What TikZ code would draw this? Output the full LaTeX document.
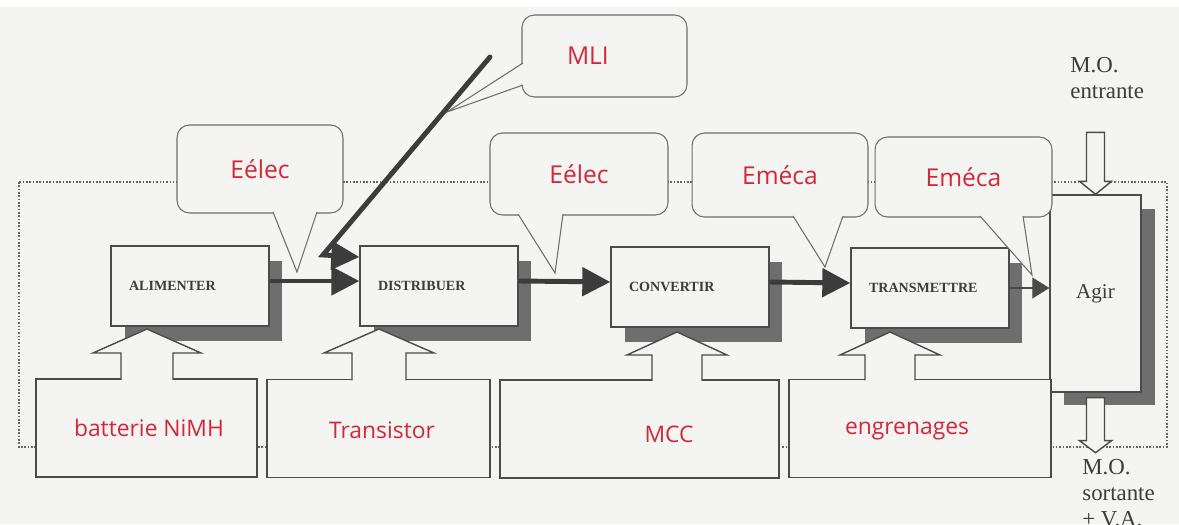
\documentclass[tikz,border=0pt]{standalone}
\usepackage{fontspec}
\setmainfont{Liberation Serif}
\newfontfamily\calfont{Open Sans}
\usetikzlibrary{arrows.meta,calc,shadows}
\definecolor{paper}{RGB}{244,244,243}
\definecolor{ink}{RGB}{75,75,75}
\definecolor{ombre}{RGB}{110,110,110}
\definecolor{redlabel}{RGB}{212,40,58}
\definecolor{txt}{RGB}{60,60,60}
\definecolor{bulleink}{RGB}{110,110,110}

\begin{document}
\begin{tikzpicture}[x=0.02cm,y=-0.02cm,>={Triangle[length=0.56cm,width=0.56cm]},
  fonction/.style={draw=ink, fill=paper, line width=0.8pt, minimum height=1.6cm, text width=2.44cm, inner xsep=0.36cm, align=left, text=txt, font=\fontsize{8}{9}\selectfont\bfseries, general shadow={fill=ombre, shadow xshift=0.27cm, shadow yshift=-0.3cm}},
  ressource/.style={draw=ink, fill=paper, line width=0.8pt, minimum height=1.96cm, inner sep=0pt},
  rouge/.style={text=redlabel, font=\calfont\fontsize{13}{15}\selectfont},
  bulle/.style={draw=bulleink, fill=paper, line width=0.6pt, rounded corners=0.25cm, inner sep=0pt, text=redlabel, font=\calfont\fontsize{14}{16}\selectfont},
  pointe/.style={draw=bulleink, fill=paper, line width=0.6pt},
  flux/.style={draw=ink!80!black, line width=2.8pt},
  creux/.style={draw=ink, fill=paper, line width=0.8pt},
  mo/.style={align=left, inner sep=0pt, text=txt, font=\fontsize{13}{14.8}\selectfont}]
  %frame
  \useasboundingbox (0,0) rectangle (1179,524);
  \fill[paper] (0,7) rectangle (1179,524);
  \draw[ink!85, densely dotted, line width=0.9pt] (19,182) rectangle (1167,447);
  % functions
  \node[fonction] (alim) at (190,286) {ALIMENTER};
  \node[fonction] (dist) at (439,286) {DISTRIBUER};
  \node[fonction] (conv) at (690,287) {CONVERTIR};
  \node[fonction] (trans) at (930,288) {TRANSMETTRE};
  \node[draw=ink, fill=paper, line width=0.8pt, minimum width=1.82cm, minimum height=3.94cm, text=txt, font=\fontsize{12}{14}\selectfont, general shadow={fill=ombre, shadow xshift=0.28cm, shadow yshift=-0.27cm}] (agir) at (1095.5,293.5) {Agir};
  % resources
  \node[ressource, minimum width=4.42cm] (batt) at (146.5,428) {};
  \node[ressource, minimum width=4.46cm] (trsr) at (378.5,428.5) {};
  \node[ressource, minimum width=5.58cm] (mcc) at (639.5,429) {};
  \node[ressource, minimum width=5.24cm] (engr) at (920,428.5) {};
  \node[rouge] (lbatt) at (149,428) {batterie NiMH};
  \node[rouge] (ltrsr) at (382,430) {Transistor};
  \node[rouge] (lmcc) at (669,434) {MCC};
  \node[rouge] (lengr) at (907,431) {engrenages};
  % callouts
  \node[bulle, minimum width=3.32cm, minimum height=1.76cm] (b1) at (260,169) {Eélec};
  \node[bulle, minimum width=3.56cm, minimum height=1.64cm] (b2) at (579,174) {Eélec};
  \node[bulle, minimum width=3.52cm, minimum height=1.68cm] (b3) at (780,175) {Eméca};
  \node[bulle, minimum width=3.54cm, minimum height=1.6cm] (b4) at (963.5,177) {Eméca};
  \node[bulle, minimum width=3.3cm, minimum height=1.64cm, text width=1.5cm, inner xsep=0.9cm, align=left] (bm) at (604.5,56) {MLI};
  \coordinate (p1) at (297,272);
  \coordinate (p2) at (555,273);
  \coordinate (p3) at (825,267);
  \coordinate (p4) at (1032,275);
  \coordinate (pm) at (447,112);
  \filldraw[pointe] ($(b1.south)+(13,-1.5)$) -- (p1) -- ($(b1.south)+(57,-1.5)$);
  \filldraw[pointe] ($(b2.south)+(-61,-1.5)$) -- (p2) -- ($(b2.south)+(-16,-1.5)$);
  \filldraw[pointe] ($(b3.south)+(13,-1.5)$) -- (p3) -- ($(b3.south)+(63,-1.5)$);
  \filldraw[pointe] ($(b4.south)+(16.5,-1.5)$) -- (p4) -- ($(b4.south)+(59.5,-1.5)$);
  \filldraw[pointe] ($(bm.west)+(1.5,7)$) -- (pm) -- ($(bm.west)+(1.5,29)$);
  % Edges
  \draw[flux,->] ([yshift=1mm]alim.east) -- ([yshift=1mm]dist.west);
  \draw[flux,->] ([yshift=1mm]dist.east) -- ([yshift=1mm]conv.west);
  \draw[flux,->] ([yshift=1mm]conv.east) -- ([yshift=1mm]trans.west);
  \draw[ink, line width=0.6pt, -{Triangle[length=0.34cm,width=0.42cm]}] (trans.east) -- (trans.east -| agir.west);
  \coordinate (mli) at (490,57);
  \coordinate (coude) at (323,255);
  \draw[flux,->,line cap=round] (mli) -- (coude) -- ([yshift=5.8mm]dist.west);
  % hollow arrows
  \coordinate (h1) at (147,329);
  \coordinate (h2) at (379,329);
  \coordinate (h3) at (677,332);
  \coordinate (h4) at (890,332);
  \filldraw[creux] ($(h1 |- batt.north)+(-26,1.5)$) |- ($(h1)+(-54,24)$) -- (h1) -- ++(54,24) -- ++(-28,0) -- ($(h1 |- batt.north)+(26,1.5)$);
  \filldraw[creux] ($(h2 |- trsr.north)+(-27,1.5)$) |- ($(h2)+(-55,24)$) -- (h2) -- ++(55,24) -- ++(-28,0) -- ($(h2 |- trsr.north)+(27,1.5)$);
  \filldraw[creux] ($(h3 |- mcc.north)+(-25,1.5)$) |- ($(h3)+(-50,23)$) -- (h3) -- ++(50,23) -- ++(-25,0) -- ($(h3 |- mcc.north)+(25,1.5)$);
  \filldraw[creux] ($(h4 |- engr.north)+(-25,1.5)$) |- ($(h4)+(-50,23)$) -- (h4) -- ++(50,23) -- ++(-25,0) -- ($(h4 |- engr.north)+(25,1.5)$);
  \filldraw[creux] (agir.north) -- ++(-16,-13) -- ++(7,0) -- ++(0,-49) -- ++(18,0) -- ++(0,49) -- ++(7,0) -- cycle;
  \coordinate (sort) at ([yshift=-1mm]agir.south);
  \filldraw[creux] ($(sort)+(-9,0)$) -- ++(0,43) -- ++(-7,0) -- ++(16,12) -- ++(16,-12) -- ++(-7,0) -- ++(0,-43) -- cycle;
  \node[mo, anchor=north west] (entr) at (1070,57) {M.O.\\entrante};
  \node[mo, anchor=north west] (sortie) at (1082,459) {M.O.\\sortante\\+ V.A.};
  \end{tikzpicture}
\end{document}
